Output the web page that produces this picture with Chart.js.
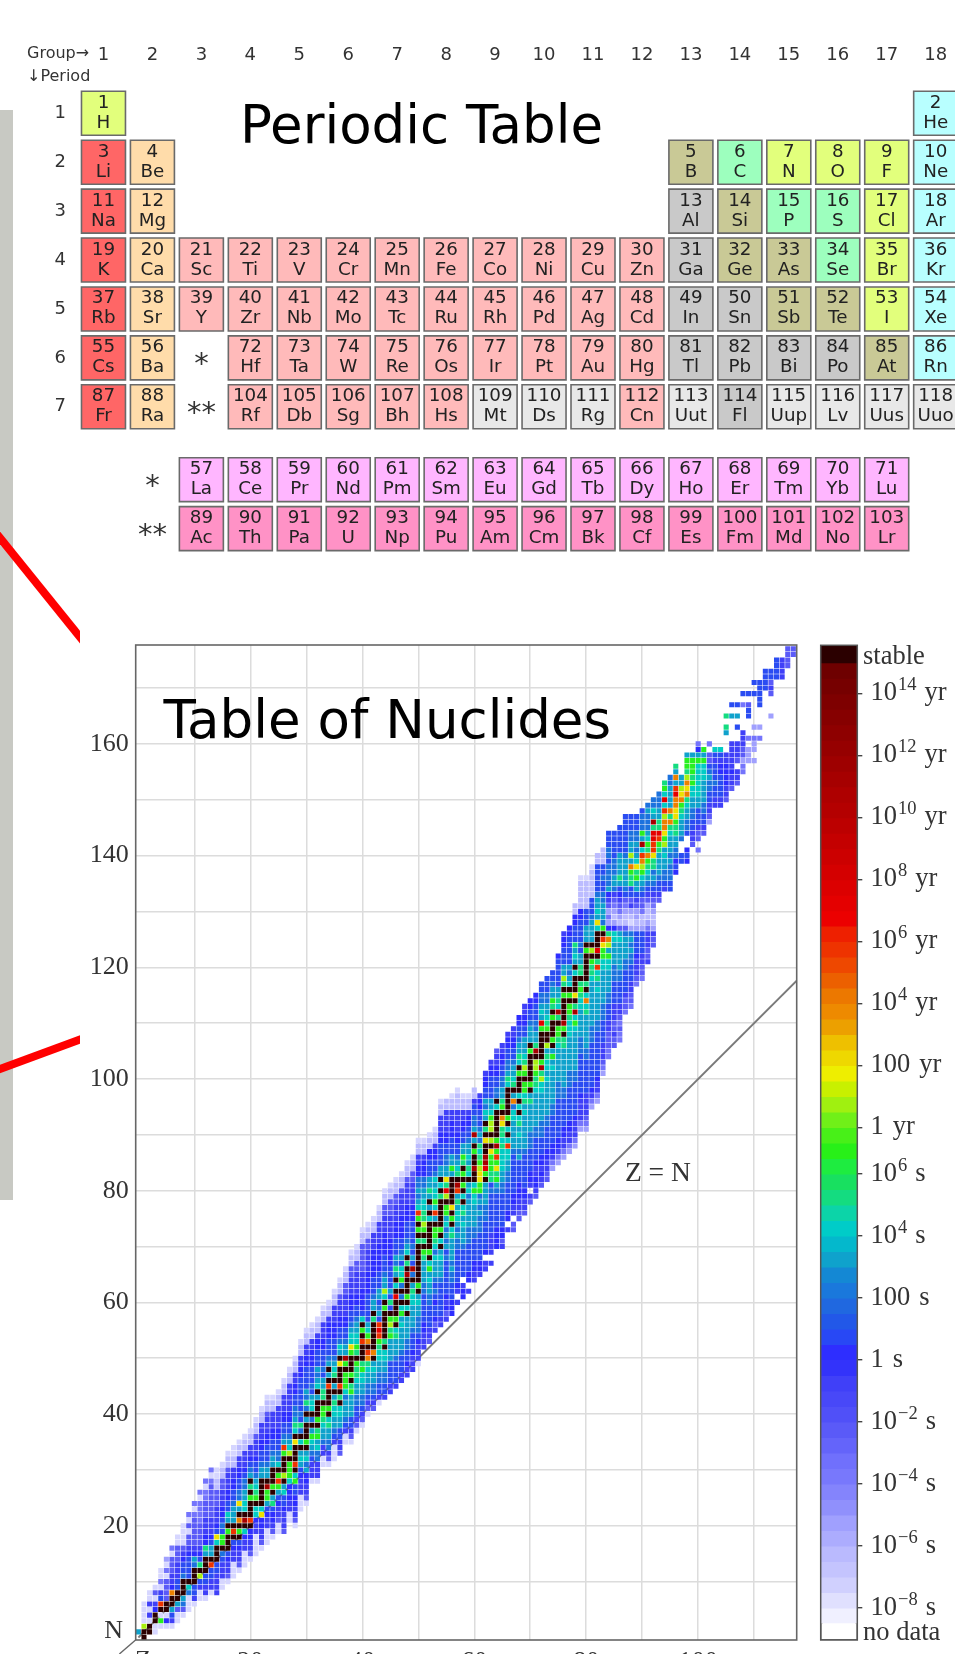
<!DOCTYPE html>
<html>
<head>
<meta charset="utf-8">
<title>Periodic Table and Table of Nuclides</title>
<script src="https://cdn.jsdelivr.net/npm/chart.js@4/dist/chart.umd.js"></script>
<style>
html, body { margin: 0; padding: 0; background: #fff; }
#page { position: relative; width: 955px; height: 1654px; overflow: hidden; background: #fff; }
#page canvas { position: absolute; filter: blur(0.45px); }
#side-bar { position: absolute; left: 0; top: 110px; width: 12.5px; height: 1090px; background: #c8c9c3; }
</style>
</head>
<body>
<div id="page">
    <div id="side-bar"></div>
    <canvas id="periodic-chart" width="1000" height="660" style="left:0;top:0"></canvas>
    <canvas id="connector-chart" width="80" height="1654" style="left:0;top:0"></canvas>
    <canvas id="nuclide-chart" width="810" height="1080" style="left:0;top:600px"></canvas>
    <canvas id="scale-chart" width="155" height="1654" style="left:800px;top:0"></canvas>
</div>

<script>
// ---- periodic table ----
const elementSymbols = ['H','He','Li','Be','B','C','N','O','F','Ne','Na','Mg','Al','Si','P','S','Cl','Ar',
    'K','Ca','Sc','Ti','V','Cr','Mn','Fe','Co','Ni','Cu','Zn','Ga','Ge','As','Se','Br','Kr',
    'Rb','Sr','Y','Zr','Nb','Mo','Tc','Ru','Rh','Pd','Ag','Cd','In','Sn','Sb','Te','I','Xe',
    'Cs','Ba','La','Ce','Pr','Nd','Pm','Sm','Eu','Gd','Tb','Dy','Ho','Er','Tm','Yb','Lu',
    'Hf','Ta','W','Re','Os','Ir','Pt','Au','Hg','Tl','Pb','Bi','Po','At','Rn',
    'Fr','Ra','Ac','Th','Pa','U','Np','Pu','Am','Cm','Bk','Cf','Es','Fm','Md','No','Lr',
    'Rf','Db','Sg','Bh','Hs','Mt','Ds','Rg','Cn','Uut','Fl','Uup','Lv','Uus','Uuo'];
const elementGroups = [1,18,1,2,13,14,15,16,17,18,1,2,13,14,15,16,17,18,
    1,2,3,4,5,6,7,8,9,10,11,12,13,14,15,16,17,18,
    1,2,3,4,5,6,7,8,9,10,11,12,13,14,15,16,17,18,
    1,2,3,4,5,6,7,8,9,10,11,12,13,14,15,16,17,
    4,5,6,7,8,9,10,11,12,13,14,15,16,17,18,
    1,2,3,4,5,6,7,8,9,10,11,12,13,14,15,16,17,
    4,5,6,7,8,9,10,11,12,13,14,15,16,17,18];
const elementRows = [1,1,2,2,2,2,2,2,2,2,3,3,3,3,3,3,3,3,
    4,4,4,4,4,4,4,4,4,4,4,4,4,4,4,4,4,4,
    5,5,5,5,5,5,5,5,5,5,5,5,5,5,5,5,5,5,
    6,6,8.49,8.49,8.49,8.49,8.49,8.49,8.49,8.49,8.49,8.49,8.49,8.49,8.49,8.49,8.49,
    6,6,6,6,6,6,6,6,6,6,6,6,6,6,6,
    7,7,9.49,9.49,9.49,9.49,9.49,9.49,9.49,9.49,9.49,9.49,9.49,9.49,9.49,9.49,9.49,
    7,7,7,7,7,7,7,7,7,7,7,7,7,7,7];
const elementKinds = 'hn' + 'aesdhhhn' + 'aegsddhn' +
    'aettttttttttgssdhn' +
    'aettttttttttggsshn' +
    'aelllllllllllllll' + 'tttttttttggggsn' +
    'aeiiiiiiiiiiiiiii' + 'tttttuuutugu' + 'uuu';
const kindColors = { h: '#e2ff7c', a: '#ff6666', e: '#ffdcaa', t: '#ffbaba', g: '#c9c9c9', s: '#c9c996',
    d: '#9dffbe', n: '#b8ffff', l: '#ffb6ff', i: '#ff92c6', u: '#e8e8e8' };
const groupLabels = [1,2,3,4,5,6,7,8,9,10,11,12,13,14,15,16,17,18];
const periodLabels = [1,2,3,4,5,6,7];

// ---- nuclides: one entry per Z, first N of the column and one half-life code per N ----
const cellFirstN = [1,0,1,1,2,2,2,3,4,5,6,7,7,8,8,9,10,11,12,13,14,15,16,17,18,19,19,21,20,23,24,28,28,31,31,32,33,35,35,37,38,40,
    41,42,43,44,45,46,47,48,49,52,53,55,56,57,58,60,61,62,64,65,66,67,70,70,73,73,75,76,78,79,81,82,84,85,86,87,88,91,91,95,96,101,
    104,106,107,112,113,117,118,121,124,132,134,134,137,139,139,142,141,144,146,149,149,150,152,153,155,157,157,161,170,165,172,172,174,176];
const cellCodes = [
    'b','##leeee','##ewewee','ee##vwexe','ege#Rnwepee','eve##xxxxepeq','ewnb##ovwwxxxep','eexb##nnwwwxxxee',
    'exub###unnvwxeeee','eeeuc#nnnnvwxxexep','ewnn###ubvwxxxxxpep','eewnl#tnvwxxxxppppep','ewwnn###btvvwwwxxxppep',
    'ewwnnR#bbnvwwwxxxxxxpep','wwwwnn###cynvwwwxxxzzee','eewwwnu#ggnunvvwwwxxzze','exwwvn###g#bcnnvvwwwxzze',
    'eeewwvn#R#bbbunnvvwwzzee','exwwvn#g#o#byuunnvvwwzze','eeewwvc#D#ccbbuunvwwwzze','exwwvv#R###g#t#bunvwwzze',
    'eeeewwvcc#gtcbunnvwwwxzze','exwwvvyc#####bbunnvvwwwzze','eeewwvnbggD#bbunnnvvwwwxzze','exwvvntb#g###bbunnvvwwwzze',
    'eexwwvnbgRg#cuunnvvwwwwzze','xwwwvnncb#l###gRbunnvvwwwzze','eewwvvvcggg#lcbunnvvwwwwwzze','exwwvvnngc#R###y#ctbuunnvvwwzze',
    'eeewwwvnbcb#c#utnunnnnnnvvwwzze','exwwvvbucb#g###b#utubnnnnvvwwzze','ewwwnubcgb#u#ccbnunnnvvvwwzze','ewwwuucbgt#g###b#cbubnnnvvwzze',
    'eewwubbctgg#ttbbnunnnvvwwwzze','exwuubbtc#g###R#b#bunnnvvvwzze','eeewnubbcctb#b#tcbunnnvvvwwwzze','xwwnnbbcc#t#R###y#bcunnvvwwwxzze',
    'eewnubbbucggg#gDbbunnvvwwwwxxzze','exwnnbbbbgt#g###gyccbunnvvvwwwxxzze','exwnnuubbcttg#tgccbbunnvvwwwwxxzze',
    'exwnuubbccgt###R#g#cnvvvvwwwxxxxxzze','exwnuubbctoR#ogcbnnnnnvvvvwwwwxxzze','xwnuubbcb#o#####t#bbunnnvvvvvwwwzze',
    'ewnnuubbcctgRrRnbunbbnnnvvvvvwwwwzze','wnnuubbcc#t#####g#clbbunnnvvvvwwwxxzze','wwnnnnbbbbgtlg#ntnbnnnnvvvvvwwwwxxxzze',
    'wnnnnubbbtc#g###r#c#btubnnnvvvwwwxxzze','wwnnnubbbbcbgc#u#ugccnbunnvvvvwwwwxzze','wwvnnuubbbb#c#g###D#t#cbunnnvvvwwwwxzze',
    'wwwvnnnubbbbcctb#uDnbnunnnnvvvwwwwxxzze','ewwwvnuuubbcb#g#######t#g#gRcbubuuvvwwzze','wwwvvnnnnnuubbbbtg#t#glttccbbuuvvvwzze',
    'xwwnnnnuubbcbgc#g#####c#b#btbbnnnvvzze','wxvnnvnunubbbcuctgg#bRcgccbcunnvvwzze','wwnnnnnnubbbcb#c#g#####t#c#bbnnnnvvwwwzze',
    'wxvwvnnnnnnunbubucbgg#lrtybbuunnvvwwwwzz','vvvnnnuububbbbtc#g#y#####bgbbnnnvvvwwzze','w.wvnnnnnnuububccbtbRD#tcbunnvvwwwwzzze',
    'vvw.nnnnnubbbcbtc#c#g#g#tgbbnnvvwwzze','w.vvnnnnnuuubbbbbucb#ctbcbbunnvvwzze','wwvvnnnnuubbbbccgc##D##g#bDbuunnwzz',
    'wvvnnnnnuuububuggyylgtctubunnnvvw','ww.vnnnnnuuubbbb#grDD##y#t#bcubnnvvw','w.wwwwnnnnnnnunttgggy#l#llgcbbnnnnvvw',
    'vvvvnnnnnnubgtygRgDg#####c#uunnvvwwx','wxvvnnnnnnuubbcccctcttyo#gtbbuunnvvww','w.vvnnnnnuubbccRc#c#g#####ctbuunnvvw',
    'xx.wwvvnnnnnnnubbbbbccuob#tcbbunnvvww','xxwwvvvnnnnbubbcbtc#c#c###g#ctbbunnvv','xwwvvnnnnnnubbbbbbcbtcgg#gltcbbbnnvvww',
    'xw.wvvnnnnuuubbbbbtb#g#####g#bbbunnvv','xwvvwwvnnnnuubbbbbbcttgll#Dtbbuunnnvv','xwvwvvnnnuuubbbbbccltDg#####grbcbuunn',
    'xxwwvvnnnnuubbbbbbcbcctbl##gtcbbuunnn','qpwvvnnnnnuubbbbbbcbgb#g###g#tgbbunn','qpwvvnnnnnnnuuubbbbbbctgg#tDctbbnnnnnv',
    'qpwwvvnnnnnuubbbbbbbtt#gD####g#tlbbnnnvvw','qpwwvvnnnnnnuuubbbbbbccctgg#g#cbubnnnnnvv','qpwwwvnnnnnnuubbbbbbbcgcDt#y###c#bcbtnnnvvzz',
    'qpwwwwvnnnnnnnuuubbbbbcctgt#ttbbnunnnnvvzzzzze','qpxwwwwnnnnnnuubbbbbbtcoc#t#####g#bbbnnnzzzzze','qpwvnnnnnnnnuuubbbbbbbbcttg#l#bbbbunnnzzzzze',
    'qpwwvnnnnnnnnuubbbbbcbtcRt#r###cybcbbunnnnnzz','qpxwwwnnnnuuubbbbbbccggyR#gubbbuunnunnzzz',
    'ppxxxwwnnnuubbbbccgblotvqpqxwvbuuuunuunnn','xxwxxwwwnnnnuuubbbbccvqzqpxwubbuuunnnnn','ppxpxwwnnnnuubbbbbcbxzqpxwvnbtbbbbnnnnn',
    'pxxwnnnnuubbbbuxzzqpxnubbbbbunnnnnnn','pxxwwnnnuububuqezqwxnnttgoblbbuunnn','pxwwwvnnnnqzqqxwnbbgtycbubuunnn',
    'pxxwwnnnnqzzpxxnubcgloRcDbguuun','wxxwwwpqzzqxwnubctgotgcbuuubu','xxwqzzqpxwnubuttyRRrrtDbcuu','xwnnubbbbtgRrttbbuuu',
    'wnuubbcblgyoolRcrcgt','nnuuububbbctotobbbbuu','vnvuubbttgyyoorRbobt','nn..ubbbctgoylbb','vnv..nuubbctoyoltggb','xwwnnuubbccgtgggb',
    'p.xxwnnnbbccccccgbvp','xwnnuubbbbcccgbg','qxwwnnuubunxx.p','wwnnunnnwnc','wwnnnnvvwnc','xwwvvvvww...bt.t','xwwvwwwww....b.n',
    'xww.xwww..n.b.n','ppqxxwww....p.n','qqq.p...nnx.n','q.qqp.q.....n.n','p.q...nnnnn','nnnn','q...xwxnn','nnnn','wwww','xxxx','xx'];
const cellColors = { '#': '#2b0000', D: '#a60000', r: '#e40000', R: '#ee3300', o: '#ec8000', y: '#eee000', l: '#a8f010', g: '#28f020',
    t: '#14dc80', c: '#02ccc4', b: '#0fa2cc', u: '#1c72de', n: '#2a4cf2', v: '#2e2eff', w: '#4040f8', x: '#5a5af8',
    p: '#7474fc', q: '#a0a0fe', z: '#bcbcff', e: '#d6d6ff' };
const zTicks = [0,10,20,30,40,50,60,70,80,90,100,110];
const nTicks = [0,10,20,30,40,50,60,70,80,90,100,110,120,130,140,150,160,170];
const labelledTicks = [20,40,60,80,100,120,140,160];
const equalLineZ = [0,117.6];
const equalLineN = [0,117.6];
const cornerMarkZ = [-0.5,-3.4];
const cornerMarkN = [-0.45,-2.95];

// ---- colour scale: half-life bands, log10 of seconds ----
const bandEdges = [22.5,22,21.5,21,20.5,20,19.5,19,18.5,18,17.5,17,16.5,16,15.5,15,14.5,14,13.5,13,12.5,12,11.5,11,10.5,10,9.5,9,8.5,8,7.5,7,
    6.5,6,5.5,5,4.5,4,3.5,3,2.5,2,1.5,1,0.5,0,-0.5,-1,-1.5,-2,-2.5,-3,-3.5,-4,-4.5,-5,-5.5,-6,-6.5,-7,-7.5,-8,-8.5];
const bandColors = ['#6e0000','#760000','#7e0000','#860000','#8e0000','#960000','#9e0000','#a60000','#ae0000','#b40000','#bc0000',
    '#c40000','#cc0000','#d40000','#dc0000','#e40000','#ec0000','#ee2000','#ee3300','#ee4800','#ec6000','#ec7800','#ee8a00','#eca000',
    '#eec000','#eed800','#eeee00','#c8f000','#a0f010','#70f018','#48f018','#28f018','#1eec40','#18e060','#14dc80','#0cd4a8','#00ccc8',
    '#04b8cc','#0fa2cc','#1488d4','#1a78dc','#2068e0','#2258e8','#2848f5','#2e2eff','#3333fa','#4040f8','#4848f8','#5050f8','#5a5af8',
    '#6464fa','#7070fc','#7878fc','#8484fc','#9090fc','#a0a0fe','#acacfe','#babafe','#c4c4fe','#d0d0fe','#e0e0fe','#f0f0ff'];
const stableBand = [22.5,23.05];
const noDataBand = [-9.04,-8.5];
const scaleTicks = [21.5,19.5,17.5,15.5,13.5,11.5,9.5,7.5,6,4,2,0,-2,-4,-6,-8];
const scaleBases = ['10','10','10','10','10','10','100','1','10','10','100','1','10','10','10','10'];
const scaleExponents = ['14','12','10','8','6','4','','','6','4','','','−2','−4','−6','−8'];
const scaleUnits = ['yr','yr','yr','yr','yr','yr','yr','yr','s','s','s','s','s','s','s','s'];

// ---- connector lines beside the tables, in page pixels ----
const connectorTopX = [-12,92];
const connectorTopY = [523,652];
const connectorLowX = [-12,92];
const connectorLowY = [1073.4,1035];

const SANS = '"DejaVu Sans"';
const SERIF = '"Liberation Serif"';

document.addEventListener('DOMContentLoaded', function() {
    Chart.defaults.animation = false;
    Chart.defaults.responsive = false;
    Chart.defaults.events = [];
    Chart.defaults.layout.autoPadding = false;
    Chart.defaults.plugins.legend.display = false;
    Chart.defaults.plugins.tooltip.enabled = false;
    drawPeriodicChart();
    drawConnectorChart();
    drawNuclideChart();
    drawScaleChart();
});

function fixedTicks(values) {
    return scale => { scale.ticks = values.map(value => ({ value })); };
}

function drawText(ctx, text, x, y, font, color, align) {
    ctx.save();
    ctx.font = font;
    ctx.fillStyle = color;
    ctx.textAlign = align || 'center';
    ctx.textBaseline = 'alphabetic';
    ctx.fillText(text, x, y);
    ctx.restore();
}

function drawPeriodicChart() {
    const points = elementSymbols.map((symbol, i) => ({ x: elementGroups[i], y: elementRows[i] }));
    const colors = elementSymbols.map((symbol, i) => kindColors[elementKinds[i]]);

    const cellLabels = {
        id: 'cellLabels',
        afterDatasetsDraw(chart) {
            const { x: xs, y: ys } = chart.scales;
            elementSymbols.forEach((symbol, i) => {
                const px = xs.getPixelForValue(elementGroups[i]);
                const py = ys.getPixelForValue(elementRows[i]);
                drawText(chart.ctx, String(i + 1), px, py - 5.5, '18.3px ' + SANS, '#222');
                drawText(chart.ctx, symbol, px, py + 14.5, '18.3px ' + SANS, '#222');
            });
            drawText(chart.ctx, '*', xs.getPixelForValue(3), ys.getPixelForValue(6) + 15, '29px ' + SANS, '#333');
            drawText(chart.ctx, '**', xs.getPixelForValue(3), ys.getPixelForValue(7) + 15, '29px ' + SANS, '#333');
            drawText(chart.ctx, '*', xs.getPixelForValue(2), ys.getPixelForValue(8.49) + 15, '29px ' + SANS, '#333');
            drawText(chart.ctx, '**', xs.getPixelForValue(2), ys.getPixelForValue(9.49) + 15, '29px ' + SANS, '#333');
            drawText(chart.ctx, 'Group→', 27, 58, '16px ' + SANS, '#333', 'left');
            drawText(chart.ctx, '↓Period', 27, 81, '16px ' + SANS, '#333', 'left');
            drawText(chart.ctx, 'Periodic Table', 240, 143, '53px ' + SANS, '#000', 'left');
        }
    };

    new Chart(document.getElementById('periodic-chart'), {
        type: 'scatter',
        data: {
            datasets: [{
                data: points,
                clip: false,
                pointStyle: 'rect',
                pointRadius: 31.1,
                pointBackgroundColor: colors,
                pointBorderColor: '#6a6a6a',
                pointBorderWidth: 1.6
            }]
        },
        options: {
            layout: { padding: { right: 45, bottom: 60, left: 0, top: 0 } },
            scales: {
                x: {
                    position: 'top',
                    min: 0.5,
                    max: 18.395,
                    grid: { display: false },
                    border: { display: false },
                    afterBuildTicks: fixedTicks(groupLabels),
                    afterFit: scale => { scale.height = 88.85; },
                    ticks: {
                        autoSkip: false, maxRotation: 0, padding: 14.5,
                        font: { family: 'DejaVu Sans', size: 18 }, color: '#333',
                        callback: value => String(value)
                    }
                },
                y: {
                    reverse: true,
                    min: 0.5,
                    max: 10.95,
                    grid: { display: false },
                    border: { display: false },
                    afterBuildTicks: fixedTicks(periodLabels),
                    afterFit: scale => { scale.width = 79; },
                    ticks: {
                        autoSkip: false, padding: 13,
                        font: { family: 'DejaVu Sans', size: 18 }, color: '#333',
                        callback: value => String(value)
                    },
                    afterUpdate: scale => { scale.options.ticks.padding = 5; }
                }
            }
        },
        plugins: [cellLabels]
    });
}

function drawConnectorChart() {
    new Chart(document.getElementById('connector-chart'), {
        type: 'scatter',
        data: {
            datasets: [
                { data: connectorTopX.map((x, i) => ({ x, y: connectorTopY[i] })) },
                { data: connectorLowX.map((x, i) => ({ x, y: connectorLowY[i] })) }
            ].map(set => Object.assign(set, { showLine: true, borderColor: '#ff0000', borderWidth: 8, pointRadius: 0 }))
        },
        options: {
            layout: { padding: 0 },
            scales: {
                x: { display: false, min: 0, max: 80 },
                y: { display: false, min: 0, max: 1654, reverse: true }
            }
        }
    });
}

function buildCells() {
    const cells = [];
    cellCodes.forEach((codes, z) => {
        codes.split('').forEach((code, i) => {
            if (code !== '.') {
                cells.push({ x: z, y: cellFirstN[z] + i, code });
            }
        });
    });
    return cells;
}

function drawNuclideChart() {
    const cells = buildCells();

    const frame = {
        id: 'frame',
        afterDraw(chart) {
            const { left, top, width, height } = chart.chartArea;
            const ctx = chart.ctx;
            ctx.save();
            ctx.strokeStyle = '#666';
            ctx.lineWidth = 1.6;
            ctx.strokeRect(left, top, width, height);
            ctx.restore();
            const { x: xs, y: ys } = chart.scales;
            drawText(ctx, 'Table of Nuclides', 163.5, 138, '53px ' + SANS, '#000', 'left');
            drawText(ctx, 'Z = N', xs.getPixelForValue(92.8), ys.getPixelForValue(83.4) + 9, '27.5px ' + SERIF, '#333');
            drawText(ctx, 'N', 123, ys.getPixelForValue(0) + 1, '26px ' + SERIF, '#333', 'right');
            drawText(ctx, 'Z', 143, 1068, '26px ' + SERIF, '#333');
        }
    };

    new Chart(document.getElementById('nuclide-chart'), {
        type: 'scatter',
        data: {
            datasets: [
                {
                    data: cells,
                    order: 1,
                    pointStyle: 'rect',
                    pointRadius: 3.6,
                    pointBorderWidth: 0,
                    pointBackgroundColor: cells.map(cell => cellColors[cell.code])
                },
                {
                    data: equalLineZ.map((x, i) => ({ x, y: equalLineN[i] })),
                    order: 2,
                    showLine: true,
                    borderColor: '#7a7a7a',
                    borderWidth: 1.9,
                    pointRadius: 0
                },
                {
                    data: cornerMarkZ.map((x, i) => ({ x, y: cornerMarkN[i] })),
                    order: 2,
                    clip: false,
                    showLine: true,
                    borderColor: '#666',
                    borderWidth: 1.4,
                    pointRadius: 0
                }
            ]
        },
        options: {
            layout: { padding: { top: 45, right: 13.3, left: 0, bottom: 0 } },
            scales: {
                x: {
                    min: -0.48,
                    max: 117.6,
                    border: { display: false },
                    grid: { color: ctx => ctx.tick && ctx.tick.value === 0 ? 'transparent' : '#dcdcdc', lineWidth: 1.5, drawTicks: false },
                    afterBuildTicks: fixedTicks(zTicks),
                    afterFit: scale => { scale.height = 40; },
                    ticks: {
                        autoSkip: false, maxRotation: 0, padding: 7,
                        font: { family: 'Liberation Serif', size: 26 }, color: '#333',
                        callback: value => labelledTicks.includes(value) ? String(value) : ''
                    }
                },
                y: {
                    min: -0.45,
                    max: 177.7,
                    border: { display: false },
                    grid: { color: ctx => ctx.tick && ctx.tick.value === 0 ? 'transparent' : '#dcdcdc', lineWidth: 1.5, drawTicks: false },
                    afterBuildTicks: fixedTicks(nTicks),
                    afterFit: scale => { scale.width = 135.7; },
                    ticks: {
                        autoSkip: false, padding: 7,
                        font: { family: 'Liberation Serif', size: 26 }, color: '#333',
                        callback: value => labelledTicks.includes(value) ? String(value) : ''
                    }
                }
            }
        },
        plugins: [frame]
    });
}

function drawScaleChart() {
    const datasets = bandColors.map((color, i) => ({
        data: [[bandEdges[i + 1], bandEdges[i]]],
        backgroundColor: color
    }));
    datasets.push({ data: [stableBand], backgroundColor: '#2b0000', order: -1 });
    datasets.push({ data: [noDataBand], backgroundColor: '#fff', borderColor: '#444', borderWidth: 1.5, order: -1 });

    const frame = {
        id: 'scaleFrame',
        afterDraw(chart) {
            const { left, top, width, height } = chart.chartArea;
            const ctx = chart.ctx;
            ctx.save();
            ctx.strokeStyle = '#555';
            ctx.lineWidth = 1.5;
            ctx.strokeRect(left, top, width, height);
            ctx.restore();
            const ys = chart.scales.y;
            const baseFont = '26.5px ' + SERIF;
            drawText(ctx, 'stable', 63, ys.getPixelForValue(22.77) + 10, baseFont, '#333', 'left');
            drawText(ctx, 'no data', 63, ys.getPixelForValue(-8.77) + 8, baseFont, '#333', 'left');
            scaleTicks.forEach((value, i) => {
                const py = ys.getPixelForValue(value) + 7;
                let px = 70.5;
                ctx.font = baseFont;
                drawText(ctx, scaleBases[i], px, py, baseFont, '#333', 'left');
                px += ctx.measureText(scaleBases[i]).width + 1;
                if (scaleExponents[i]) {
                    ctx.font = '18.5px ' + SERIF;
                    drawText(ctx, scaleExponents[i], px, py - 10, '18.5px ' + SERIF, '#333', 'left');
                    px += ctx.measureText(scaleExponents[i]).width;
                }
                drawText(ctx, scaleUnits[i], px + 8, py, baseFont, '#333', 'left');
            });
        }
    };

    new Chart(document.getElementById('scale-chart'), {
        type: 'bar',
        data: { labels: ['half-life'], datasets },
        options: {
            layout: { padding: { left: 20.7, top: 645.3, bottom: 14, right: 0 } },
            datasets: { bar: { grouped: false, barPercentage: 1, categoryPercentage: 1, inflateAmount: 0.8 } },
            scales: {
                x: { display: false },
                y: {
                    position: 'right',
                    min: -9.04,
                    max: 23.05,
                    border: { display: false },
                    grid: { drawOnChartArea: false, drawTicks: true, tickLength: 5, color: '#444', lineWidth: 1.4 },
                    afterBuildTicks: fixedTicks(scaleTicks),
                    afterFit: scale => { scale.width = 97.7; },
                    ticks: { display: false }
                }
            }
        },
        plugins: [frame]
    });
}
</script>
</body>
</html>
